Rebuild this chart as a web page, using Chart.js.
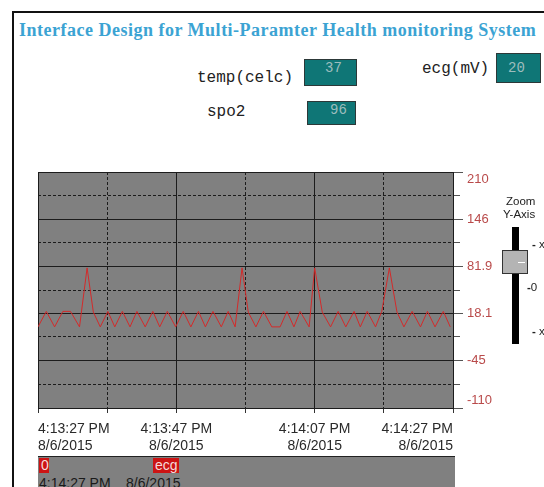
<!DOCTYPE html>
<html>
<head>
<meta charset="utf-8">
<script src="https://cdn.jsdelivr.net/npm/chart.js@4.4.0/dist/chart.umd.min.js"></script>
<style>
  body { margin: 0; width: 544px; height: 487px; overflow: hidden; background: #fff; position: relative;
         font-family: Arial, "Liberation Sans", sans-serif; }
  .frame { position: absolute; left: 12px; top: 11px; width: 600px; height: 600px;
           border-left: 2px solid #111; border-top: 2px solid #111; }
  .title { position: absolute; left: 19px; top: 20px; font-family: "Liberation Serif", "Times New Roman", serif;
           font-weight: bold; font-size: 18px; line-height: 20px; letter-spacing: 0.5px; color: #3ba3d3;
           white-space: nowrap; }
  .mono { position: absolute; font-family: "Liberation Mono", "Courier New", monospace; font-size: 16px;
          line-height: 16px; color: #222; white-space: pre; }
  .box { position: absolute; background: #0f7676; border: 1px solid #2c3838; box-sizing: border-box; }
  .boxval { position: absolute; font-family: "Liberation Mono", "Courier New", monospace; font-size: 14px;
            line-height: 14px; color: #9dbdbd; }
  #chartWrap { position: absolute; left: 20px; top: 160px; width: 500px; height: 300px; }
  .zoomlbl { position: absolute; font-size: 11.5px; line-height: 12px; color: #222; white-space: nowrap; }
  .sl { position: absolute; }
  .legendbar { position: absolute; left: 38px; top: 456px; width: 417px; height: 40px; background: #808080;
               border-top: 1px solid #222; box-sizing: border-box; }
  .tag { position: absolute; top: 1px; height: 15px; background: #cc1414; color: #f6dada; font-size: 14px;
         line-height: 15px; padding-left: 2px; box-sizing: border-box; }
  .lg { position: absolute; top: 19px; font-size: 14px; line-height: 14px; color: #1a1a1a; white-space: nowrap; }
</style>
</head>
<body>
<div class="frame"></div>
<div class="title">Interface Design for Multi-Paramter Health monitoring System</div>

<div class="mono" style="left:197px;top:70px">temp(celc)</div>
<div class="box" style="left:304px;top:59px;width:53px;height:27px"></div>
<div class="boxval" style="left:325px;top:61px">37</div>

<div class="mono" style="left:422px;top:61px">ecg(mV)</div>
<div class="box" style="left:496px;top:53px;width:45px;height:30px"></div>
<div class="boxval" style="left:508px;top:61px">20</div>

<div class="mono" style="left:207px;top:104px">spo2</div>
<div class="box" style="left:307px;top:101px;width:49px;height:24px"></div>
<div class="boxval" style="left:330px;top:103px">96</div>

<div id="chartWrap"><canvas id="ecgChart"></canvas></div>

<div class="zoomlbl" style="left:506px;top:195px">Zoom</div>
<div class="zoomlbl" style="left:503px;top:208px">Y-Axis</div>
<div class="sl" style="left:512px;top:227px;width:7px;height:117px;background:#000"></div>
<div class="sl" style="left:502px;top:250px;width:26px;height:24px;background:#b4b4b4;border:1px solid #333;box-sizing:border-box"></div>
<div class="sl" style="left:518px;top:262px;width:7px;height:1px;background:#fff"></div>
<div class="zoomlbl" style="left:532px;top:238px"><b>-</b> x</div>
<div class="zoomlbl" style="left:527px;top:281px"><b>-</b>0</div>
<div class="zoomlbl" style="left:532px;top:325px"><b>-</b> x</div>

<div class="legendbar">
  <div class="tag" style="left:1px;width:10px">0</div>
  <div class="tag" style="left:115px;width:26px">ecg</div>
  <div class="lg" style="left:1px">4:14:27 PM</div>
  <div class="lg" style="left:88px">8/6/2015</div>
</div>

<script>
// time axis: seconds after 4:13:27 PM
const xTickSeconds = [0, 20, 40, 60];
const xMinorSeconds = [10, 30, 50];
const xTickTimes = ['4:13:27 PM', '4:13:47 PM', '4:14:07 PM', '4:14:27 PM'];
const xTickDate = '8/6/2015';

const yTickValues = [-110, -45, 18.1, 81.9, 146, 210];
const yMinorValues = [-77.5, -13.5, 50, 114, 178];

const ecgSeconds = [0, 1.2, 2.4, 3.6, 4.7, 6.0, 7.1, 8.0, 9.0, 10.1,
    11.1, 12.2, 13.3, 14.3, 15.5, 16.6, 17.6, 18.7, 19.9, 21.0,
    22.1, 23.2, 24.2, 25.3, 26.5, 27.5, 28.5, 29.5, 30.4, 31.5,
    32.6, 33.8, 35.0, 36.0, 37.0, 37.9, 39.2, 40.0, 41.1, 42.3,
    43.4, 44.5, 45.7, 46.6, 47.6, 48.8, 49.7, 50.8, 51.9, 52.9,
    54.1, 55.3, 56.3, 57.4, 58.6, 59.6];
const ecgValues = [0, 21, 0, 21, 21, 0, 80, 20, 0, 21,
    0, 21, 0, 21, 0, 21, 0, 21, 0, 21,
    0, 21, 0, 21, 0, 21, 0, 80, 20, 0,
    21, 0, 0, 21, 0, 21, 0, 80, 20, 0,
    21, 0, 21, 0, 21, 0, 21, 80, 20, 0,
    21, 0, 21, 0, 21, 0];

const gridDark = '#1c1c1c';
const labelRed = '#b94a4a';
const fontFamily = 'Arial, "Liberation Sans", sans-serif';

const plotBackground = {
  id: 'plotBackground',
  beforeDraw(chart) {
    const {ctx, chartArea: {left, top, width, height}} = chart;
    ctx.save();
    ctx.fillStyle = '#808080';
    ctx.fillRect(left, top, width, height);
    ctx.restore();
  }
};

const config = {
  type: 'line',
  data: {
    datasets: [{
      label: 'ecg',
      data: ecgSeconds.map((s, i) => ({x: s, y: ecgValues[i]})),
      borderColor: '#d42a2a',
      borderWidth: 1,
      pointRadius: 0,
      tension: 0
    }]
  },
  options: {
    responsive: true,
    maintainAspectRatio: false,
    animation: false,
    layout: { padding: { left: 18, top: 12, right: 22, bottom: 4 } },
    plugins: {
      legend: { display: false },
      tooltip: { enabled: false }
    },
    scales: {
      x: {
        type: 'linear', position: 'bottom', min: 0, max: 60, weight: 1,
        afterBuildTicks: (scale) => { scale.ticks = xTickSeconds.map(v => ({value: v})); },
        afterFit: (scale) => { scale.height = 48; scale.paddingLeft = 0; scale.paddingRight = 0; },
        grid: { color: gridDark, lineWidth: 1, tickLength: 5, tickColor: '#333' },
        border: { color: gridDark },
        ticks: {
          align: 'inner', maxRotation: 0, autoSkip: false, padding: 7, color: '#2a2a2a',
          font: { family: fontFamily, size: 14, lineHeight: 1.24 },
          callback: (value, index) => [xTickTimes[index], xTickDate]
        }
      },
      xMinor: {
        type: 'linear', position: 'bottom', min: 0, max: 60, weight: 0,
        afterBuildTicks: (scale) => { scale.ticks = xMinorSeconds.map(v => ({value: v})); },
        afterFit: (scale) => { scale.height = 0; scale.paddingLeft = 0; scale.paddingRight = 0; },
        grid: { color: gridDark, lineWidth: 1, tickLength: 5, tickColor: '#333', tickBorderDash: [] },
        border: { display: false, dash: [3, 2] },
        ticks: { display: false }
      },
      y: {
        type: 'linear', position: 'right', min: -110, max: 210, weight: 1,
        afterBuildTicks: (scale) => { scale.ticks = yTickValues.map(v => ({value: v})); },
        afterFit: (scale) => { scale.width = 45; scale.paddingTop = 0; scale.paddingBottom = 0; },
        grid: { color: gridDark, lineWidth: 1, tickLength: 10, tickColor: '#555' },
        border: { color: gridDark },
        ticks: {
          padding: 4, color: labelRed,
          font: { family: fontFamily, size: 13, lineHeight: 1.2 },
          callback: (value, index) => {
            const text = String(value);
            // end labels sit inside the plot range
            if (index === 0) return [text, ''];
            if (index === yTickValues.length - 1) return ['', text];
            return text;
          }
        }
      },
      yMinor: {
        type: 'linear', position: 'right', min: -110, max: 210, weight: 0,
        afterBuildTicks: (scale) => { scale.ticks = yMinorValues.map(v => ({value: v})); },
        afterFit: (scale) => { scale.width = 0; scale.paddingTop = 0; scale.paddingBottom = 0; },
        grid: { color: gridDark, lineWidth: 1, tickLength: 7, tickColor: '#555', tickBorderDash: [] },
        border: { display: false, dash: [3, 2] },
        ticks: { display: false }
      }
    }
  },
  plugins: [plotBackground]
};

var ecgChart = new Chart(
  document.getElementById('ecgChart').getContext('2d'),
  config
);
</script>
</body>
</html>
